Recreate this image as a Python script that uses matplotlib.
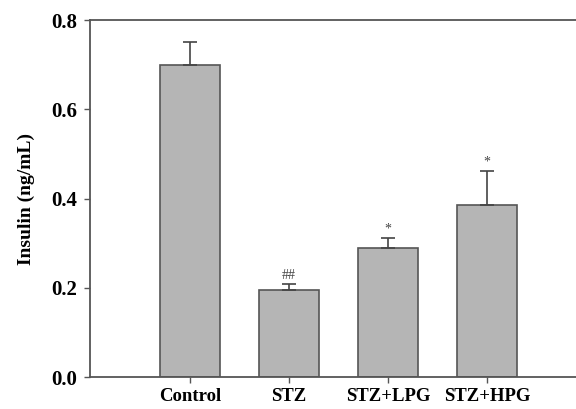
import numpy as np
import matplotlib
matplotlib.use("Agg")
from matplotlib import pyplot as plt

groups = ["Control", "STZ", "STZ+LPG", "STZ+HPG"]
insulin = [0.70, 0.196, 0.289, 0.385]
sem = [0.050, 0.012, 0.023, 0.077]
marks = ["", "##", "*", "*"]

plt.rcParams["font.family"] = ["Liberation Serif", "DejaVu Serif"]

fig = plt.figure(figsize=(5.76, 4.09), dpi=100)
ax = fig.add_axes([0.156, 0.078, 0.844, 0.873])

x = np.arange(len(groups))
ax.bar(x, insulin, width=0.6, color="#b5b5b5", edgecolor="#555555", linewidth=1.2, zorder=2)
ax.errorbar(x, insulin, yerr=[np.zeros(len(sem)), sem], fmt="none",
            ecolor="#444444", elinewidth=1.2, capsize=5, capthick=1.2, zorder=3)
for xi, v, e, m in zip(x, insulin, sem, marks):
    if m:
        ax.text(xi, v + e + 0.006, m, ha="center", va="bottom", fontsize=10, color="#444444")

ax.set_xlim(-1.01, 3.9)
ax.set_ylim(0, 0.8)
ax.set_yticks([0.0, 0.2, 0.4, 0.6, 0.8])
ax.set_yticklabels(["0.0", "0.2", "0.4", "0.6", "0.8"])
ax.set_xticks(x)
ax.set_xticklabels(groups)
for lab in ax.get_yticklabels():
    lab.set_fontweight("bold")
    lab.set_fontsize(15)
for lab in ax.get_xticklabels():
    lab.set_fontweight("bold")
    lab.set_fontsize(13.5)
ax.tick_params(axis="x", length=4, width=1, color="#555555", pad=4)
ax.tick_params(axis="y", length=4, width=1, color="#555555", pad=5)
ax.set_ylabel("Insulin (ng/mL)", fontsize=14, fontweight="bold", labelpad=12)

ax.spines["right"].set_visible(False)
for s in ["top", "bottom", "left"]:
    ax.spines[s].set_color("#555555")
    ax.spines[s].set_linewidth(1.3)

fig.savefig("out.png", dpi=100)
